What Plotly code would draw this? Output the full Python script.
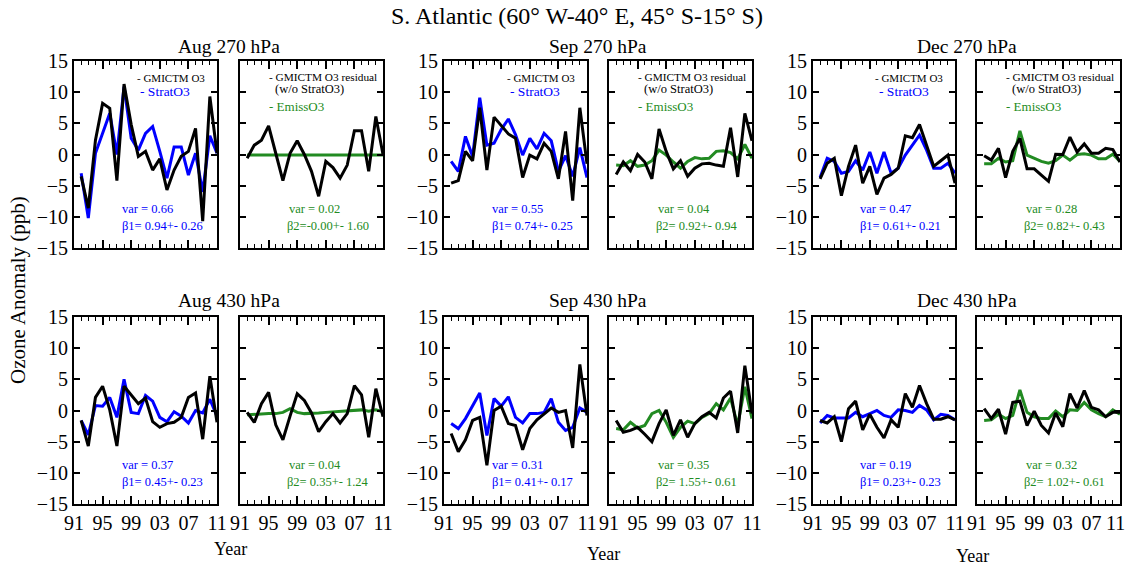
import plotly.graph_objects as go

years = list(range(1992, 2012))

# ---- 270 hPa ----
aug270_gmi = [-3.5, -8.6, 2.3, 8.2, 7.4, -4.2, 11.3, 4.8, -0.3, 0.5, -2.5, -0.7, -5.7, -2.5, -0.3, 0.5, 4.2, -10.7, 9.3, 0.2]
aug270_strat = [-3.0, -10.2, 0.2, 3.4, 6.6, 0.0, 10.9, 2.6, 0.7, 3.4, 4.5, 0.5, -3.8, 1.2, 1.2, -3.3, 0.2, -6.0, 3.0, 0.2]
aug270_resid = [-0.6, 1.5, 2.3, 4.6, 0.2, -4.2, 0.2, 2.2, 0.0, -2.7, -6.7, -1.1, -2.1, -3.8, -1.7, 3.8, 3.8, -2.7, 6.1, 0.0]
aug270_emiss = [-0.1] * 20

sep270_gmi = [-4.6, -4.2, 0.5, -1.0, 7.5, -2.5, 6.0, 4.6, 3.3, 2.6, -3.7, -0.1, -0.7, 1.8, 0.5, -3.9, 3.7, -7.4, 7.5, -1.5]
sep270_strat = [-1.1, -2.7, 2.9, -0.3, 9.1, 1.5, 1.8, 4.0, 5.7, 3.2, -0.1, 2.6, 0.9, 3.4, 2.2, -2.7, -0.2, -3.5, 1.1, -3.7]
sep270_resid = [-3.2, -1.2, -2.6, 0.0, -1.2, -3.9, 4.1, 0.5, -2.3, -1.0, -3.5, -2.2, -1.5, -1.4, -1.7, -1.9, 4.3, -3.6, 6.6, 2.2]
sep270_emiss = [-1.7, -1.8, -1.0, -1.9, -1.7, -1.0, 0.7, -0.1, -1.2, -2.2, -1.1, -0.5, -0.7, -0.6, 0.5, 0.6, 0.3, -0.7, 1.6, -0.6]

dec270_gmi = [-3.9, -1.4, -0.6, -6.6, -1.9, 1.5, -4.6, -1.9, -6.4, -3.8, -3.2, -2.2, 3.0, 2.7, 4.8, 1.3, -1.9, -1.0, -0.1, -4.6]
dec270_strat = [-3.7, -0.6, -1.1, -3.0, -2.7, -1.0, -2.5, 0.4, -3.0, 0.4, -3.0, -2.2, -0.1, 1.5, 3.1, 0.7, -2.2, -2.2, -1.4, -3.0]
dec270_resid = [-0.2, -0.9, 1.0, -3.7, 0.5, 2.6, -2.3, -2.3, -3.3, -4.3, 0.05, 0.0, 2.8, 0.4, 1.7, 0.2, 0.2, 1.0, 0.8, -1.2]
dec270_emiss = [-1.5, -1.5, -0.6, -1.2, -1.0, 3.8, -0.1, -0.6, -1.1, -1.4, -1.0, -0.1, -0.9, 0.0, 0.1, -0.1, -0.7, -0.7, 0.05, -1.1]

# ---- 430 hPa ----
aug430_gmi = [-1.6, -5.7, 2.1, 3.9, 0.1, -5.7, 3.9, 2.5, 1.1, 2.0, -1.8, -2.7, -2.1, -1.9, -1.1, 2.1, 2.8, -4.6, 5.5, -1.9]
aug430_strat = [-1.6, -3.9, 0.8, 0.7, 2.1, -1.1, 5.0, -0.3, -0.5, 2.4, 1.5, -1.1, -1.8, -0.2, -0.9, -2.0, 0.0, -0.4, 1.8, -0.9]
aug430_resid = [-0.3, -1.9, 1.1, 2.9, -2.3, -4.7, -0.9, 2.7, 1.6, -0.4, -3.4, -1.8, -0.5, -2.0, -0.5, 4.0, 2.5, -4.3, 3.5, -1.0]
aug430_emiss = [-0.7, -0.6, -0.6, -0.5, -0.5, -0.3, 0.3, -0.3, -0.5, -0.5, -0.4, -0.3, -0.2, -0.1, -0.1, 0.1, 0.1, -0.1, 0.1, -0.2]

sep430_gmi = [-3.7, -6.6, -4.7, -1.6, -1.1, -8.8, 0.0, 0.7, -2.1, -2.4, -6.3, -2.9, -1.5, -0.6, 0.4, -0.3, 0.0, -6.0, 7.4, -0.8]
sep430_strat = [-2.1, -2.9, -1.3, 0.8, 2.8, -4.0, 1.9, 0.7, 2.2, -1.1, -2.0, -0.5, -0.5, -0.3, 1.9, -1.9, -3.2, -2.7, 0.4, -0.3]
sep430_resid = [-1.6, -3.5, -3.2, -2.7, -3.8, -5.0, -2.1, 0.1, -4.0, -1.5, -4.3, -2.1, -1.0, -0.3, -1.2, 2.0, 3.1, -3.6, 7.2, -0.5]
sep430_emiss = [-2.9, -3.1, -1.9, -2.8, -2.4, -0.5, 0.0, -1.9, -4.3, -2.7, -1.7, -2.1, -1.1, -0.5, 1.1, 0.1, 2.0, -2.4, 3.8, -1.3]

dec430_gmi = [-1.6, -2.0, -1.0, -5.0, 0.3, 1.5, -3.1, -0.6, -2.7, -4.4, -1.5, -2.7, 2.7, 0.5, 4.0, 1.1, -1.4, -1.4, -1.0, -1.5]
dec430_strat = [-2.0, -0.8, -1.2, -1.2, -1.2, -0.3, -1.0, -0.5, 0.0, -0.8, -1.1, 0.1, 0.0, -0.3, 0.8, 0.1, -1.5, -0.6, -0.8, -1.5]
dec430_resid = [0.3, -1.3, 0.2, -3.8, 1.3, 1.5, -2.4, -0.1, -2.4, -3.6, -0.4, -2.6, 2.7, 0.4, 3.2, 0.5, 0.1, -1.0, -0.3, -0.3]
dec430_emiss = [-1.6, -1.5, -0.6, -1.3, -0.8, 3.3, -0.3, -1.0, -1.3, -1.3, -0.1, -1.0, 0.1, 0.0, 1.3, 0.1, -0.5, -1.0, 0.1, -0.6]

panel_titles = ["Aug 270 hPa", "Sep 270 hPa", "Dec 270 hPa", "Aug 430 hPa", "Sep 430 hPa", "Dec 430 hPa"]
var1 = ["0.66", "0.55", "0.47", "0.37", "0.31", "0.19"]
beta1 = ["0.94+- 0.26", "0.74+- 0.25", "0.61+- 0.21", "0.45+- 0.23", "0.41+- 0.17", "0.23+- 0.23"]
var2 = ["0.02", "0.04", "0.28", "0.04", "0.35", "0.32"]
beta2 = ["-0.00+- 1.60", " 0.92+- 0.94", " 0.82+- 0.43", " 0.35+- 1.24", " 1.55+- 0.61", " 1.02+- 0.61"]
x_tickvals = [1991, 1995, 1999, 2003, 2007, 2011]
x_ticktext = ["91", "95", "99", "03", "07", "11"]
y_tickvals = [-15, -10, -5, 0, 5, 10, 15]

pairs = [
    (aug270_gmi, aug270_strat, aug270_resid, aug270_emiss),
    (sep270_gmi, sep270_strat, sep270_resid, sep270_emiss),
    (dec270_gmi, dec270_strat, dec270_resid, dec270_emiss),
    (aug430_gmi, aug430_strat, aug430_resid, aug430_emiss),
    (sep430_gmi, sep430_strat, sep430_resid, sep430_emiss),
    (dec430_gmi, dec430_strat, dec430_resid, dec430_emiss),
]

W, H = 1128, 567
cols_px = [(74, 217), (240, 383), (444, 587), (609, 752), (813, 955), (977, 1120)]
rows_px = [(61, 248), (317, 504)]

BLUE = "#0000FF"
GREEN = "#228B22"
FONT = "Liberation Serif"

fig = go.Figure()
layout = dict()
annotations = []

def dom_x(a, b):
    return [a / W, b / W]

def dom_y(top, bot):
    return [1 - bot / H, 1 - top / H]

ax = 0
n_axes = 12
for r in range(2):
    for c in range(3):
        p = r * 3 + c
        gmi, strat, resid, emiss = pairs[p]
        for side in range(2):
            ax += 1
            xa = "x" if ax == 1 else f"x{ax}"
            ya = "y" if ax == 1 else f"y{ax}"
            xk = "xaxis" if ax == 1 else f"xaxis{ax}"
            yk = "yaxis" if ax == 1 else f"yaxis{ax}"
            x0, x1 = cols_px[c * 2 + side]
            t0, t1 = rows_px[r]
            last = (ax == n_axes)
            ttext = list(x_ticktext)
            if last:
                ttext[-1] = ""  # drawn below as a right-anchored label so it stays inside the page
            layout[xk] = dict(
                domain=dom_x(x0, x1), range=[1991, 2011], anchor=ya, automargin=False,
                tickmode="array", tickvals=x_tickvals, ticktext=ttext,
                showticklabels=(r == 1), ticks="inside", ticklen=8, tickwidth=1.5,
                tickcolor="black", showline=True, linecolor="black", linewidth=2,
                mirror="ticks", showgrid=False, zeroline=False,
                ticklabelstandoff=0, ticklabeloverflow="allow",
                minor=dict(tickmode="linear", tick0=1991, dtick=1, ticks="inside",
                           ticklen=4, tickwidth=1.2, tickcolor="black", showgrid=False),
                tickfont=dict(family=FONT, size=20, color="black"),
            )
            layout[yk] = dict(
                domain=dom_y(t0, t1), range=[-15, 15], anchor=xa, automargin=False,
                tickmode="array", tickvals=y_tickvals, ticklabeloverflow="allow",
                showticklabels=(side == 0), ticks="inside", ticklen=6, tickwidth=1.5,
                tickcolor="black", showline=True, linecolor="black", linewidth=2,
                mirror="ticks", showgrid=False, zeroline=False,
                tickfont=dict(family=FONT, size=20, color="black"),
            )
            if last:
                annotations.append(dict(text=x_ticktext[-1], xref=xa, yref="paper",
                                        x=x_tickvals[-1], y=1 - 523 / H, xshift=7,
                                        xanchor="right", yanchor="middle", showarrow=False,
                                        font=dict(family=FONT, size=20, color="black")))
            xd, yd = f"{xa} domain", f"{ya} domain"
            if side == 0:
                fig.add_trace(go.Scatter(x=years, y=strat, mode="lines", xaxis=xa, yaxis=ya,
                                         line=dict(color=BLUE, width=3), showlegend=False))
                fig.add_trace(go.Scatter(x=years, y=gmi, mode="lines", xaxis=xa, yaxis=ya,
                                         line=dict(color="black", width=3), showlegend=False))
                if r == 0:
                    annotations.append(dict(text="- GMICTM O3", xref=xd, yref=yd, x=0.93, y=0.909,
                                            xanchor="right", yanchor="middle", showarrow=False,
                                            font=dict(family=FONT, size=11, color="black")))
                    annotations.append(dict(text="- StratO3", xref=xd, yref=yd, x=0.45, y=0.836,
                                            xanchor="left", yanchor="middle", showarrow=False,
                                            font=dict(family=FONT, size=13.5, color=BLUE)))
                annotations.append(dict(text=f"var = {var1[p]}", xref=xd, yref=yd, x=0.32, y=0.209,
                                        xanchor="left", yanchor="middle", showarrow=False,
                                        font=dict(family=FONT, size=12.5, color=BLUE)))
                annotations.append(dict(text=f"β1= {beta1[p]}", xref=xd, yref=yd, x=0.32, y=0.118,
                                        xanchor="left", yanchor="middle", showarrow=False,
                                        font=dict(family=FONT, size=12.5, color=BLUE)))
            else:
                fig.add_trace(go.Scatter(x=years, y=emiss, mode="lines", xaxis=xa, yaxis=ya,
                                         line=dict(color=GREEN, width=3), showlegend=False))
                fig.add_trace(go.Scatter(x=years, y=resid, mode="lines", xaxis=xa, yaxis=ya,
                                         line=dict(color="black", width=3), showlegend=False))
                if r == 0:
                    annotations.append(dict(text="- GMICTM O3 residual", xref=xd, yref=yd, x=0.187, y=0.913,
                                            xanchor="left", yanchor="middle", showarrow=False,
                                            font=dict(family=FONT, size=11.3, color="black")))
                    annotations.append(dict(text="(w/o StratO3)", xref=xd, yref=yd, x=0.229, y=0.852,
                                            xanchor="left", yanchor="middle", showarrow=False,
                                            font=dict(family=FONT, size=12.5, color="black")))
                    annotations.append(dict(text="- EmissO3", xref=xd, yref=yd, x=0.187, y=0.756,
                                            xanchor="left", yanchor="middle", showarrow=False,
                                            font=dict(family=FONT, size=13, color=GREEN)))
                annotations.append(dict(text=f"var = {var2[p]}", xref=xd, yref=yd, x=0.327, y=0.209,
                                        xanchor="left", yanchor="middle", showarrow=False,
                                        font=dict(family=FONT, size=12.5, color=GREEN)))
                annotations.append(dict(text=f"β2={beta2[p]}", xref=xd, yref=yd, x=0.315, y=0.118,
                                        xanchor="left", yanchor="middle", showarrow=False,
                                        font=dict(family=FONT, size=12.5, color=GREEN)))
        # pair title
        px0 = cols_px[c * 2][0]
        px1 = cols_px[c * 2 + 1][1]
        title_y = 46 if r == 0 else 300
        annotations.append(dict(text=panel_titles[p], xref="paper", yref="paper",
                                x=(px0 + px1) / 2 / W, y=1 - title_y / H,
                                xanchor="center", yanchor="middle", showarrow=False,
                                font=dict(family=FONT, size=19.5, color="black")))

# Year labels
for c, (xc, yc) in enumerate([(230, 549), (603, 554), (972, 556)]):
    annotations.append(dict(text="Year", xref="paper", yref="paper", x=xc / W, y=1 - yc / H,
                            xanchor="center", yanchor="middle", showarrow=False,
                            font=dict(family=FONT, size=18, color="black")))

# Main title
annotations.append(dict(text="S. Atlantic (60° W-40° E, 45° S-15° S)", xref="paper", yref="paper",
                        x=577 / W, y=1 - 16 / H, xanchor="center", yanchor="middle", showarrow=False,
                        font=dict(family=FONT, size=24, color="black")))
# Y title
annotations.append(dict(text="Ozone Anomaly (ppb)", xref="paper", yref="paper",
                        x=18 / W, y=1 - 290 / H, xanchor="center", yanchor="middle", showarrow=False,
                        textangle=-90, font=dict(family=FONT, size=21, color="black")))

fig.update_layout(
    width=W, height=H, margin=dict(l=0, r=0, t=0, b=0, autoexpand=False),
    paper_bgcolor="white", plot_bgcolor="white",
    showlegend=False, annotations=annotations, **layout,
)

fig.write_html("out.html")
